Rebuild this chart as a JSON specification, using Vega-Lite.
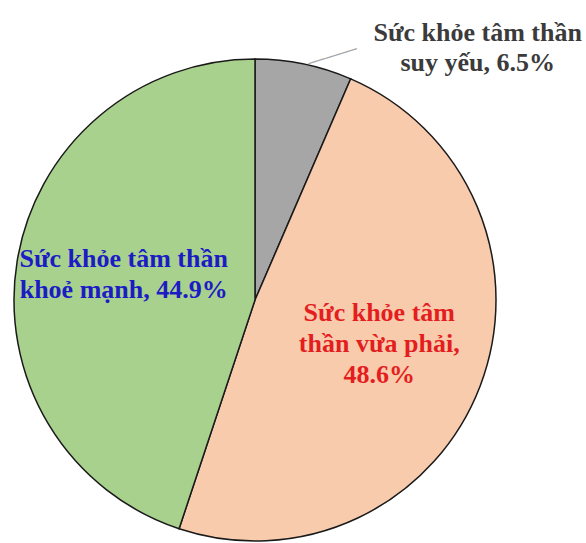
{
  "$schema": "https://vega.github.io/schema/vega-lite/v6.json",
  "width": 510,
  "height": 486,
  "autosize": {"type": "none"},
  "padding": {"left": 0, "top": 57, "right": 76, "bottom": 0},
  "background": "white",
  "config": {"view": {"stroke": null}},
  "data": {
    "values": [
      {"category": "Sức khỏe tâm thần suy yếu", "value": 6.5, "rank": 1, "label": "Sức khỏe tâm thần\nsuy yếu, 6.5%"},
      {"category": "Sức khỏe tâm thần vừa phải", "value": 48.6, "rank": 2, "label": "Sức khỏe tâm\nthần vừa phải,\n48.6%"},
      {"category": "Sức khỏe tâm thần khoẻ mạnh", "value": 44.9, "rank": 3, "label": "Sức khỏe tâm thần\nkhoẻ mạnh, 44.9%"}
    ]
  },
  "encoding": {
    "theta": {"field": "value", "type": "quantitative", "stack": true},
    "order": {"field": "rank", "type": "quantitative"}
  },
  "layer": [
    {
      "mark": {"type": "arc", "outerRadius": 241, "stroke": "#1a1a1a", "strokeWidth": 1.5},
      "encoding": {
        "color": {
          "field": "category",
          "type": "nominal",
          "scale": {
            "domain": ["Sức khỏe tâm thần suy yếu", "Sức khỏe tâm thần vừa phải", "Sức khỏe tâm thần khoẻ mạnh"],
            "range": ["#A6A6A6", "#F8CBAD", "#A9D18E"]
          },
          "legend": null
        }
      }
    },
    {
      "mark": {"type": "text", "radius": 133, "font": "Liberation Serif", "fontWeight": "bold", "fontSize": 26, "lineHeight": 31, "lineBreak": "\n", "align": "center", "baseline": "middle", "dy": -34, "fill": "#E41E1E"},
      "encoding": {
        "text": {"condition": {"test": "datum.rank !== 2", "value": ""}, "field": "label", "type": "nominal"}
      }
    },
    {
      "mark": {"type": "text", "radius": 133, "font": "Liberation Serif", "fontWeight": "bold", "fontSize": 26, "lineHeight": 31, "lineBreak": "\n", "align": "center", "baseline": "middle", "dy": -20, "fill": "#1C1CC4"},
      "encoding": {
        "text": {"condition": {"test": "datum.rank !== 3", "value": ""}, "field": "label", "type": "nominal"}
      }
    },
    {
      "mark": {"type": "text", "radius": 255, "font": "Liberation Serif", "fontWeight": "bold", "fontSize": 26, "lineHeight": 30, "lineBreak": "\n", "align": "center", "baseline": "middle", "dx": 171, "dy": -17, "fill": "#3B3B3B"},
      "encoding": {
        "text": {"condition": {"test": "datum.rank !== 1", "value": ""}, "field": "label", "type": "nominal"}
      }
    },
    {
      "mark": {"type": "text", "radius": 255, "font": "DejaVu Sans Mono", "fontSize": 14, "align": "center", "baseline": "middle", "dx": 23, "dy": 14, "angle": 343, "fill": "#A6A6A6"},
      "encoding": {
        "text": {"condition": {"test": "datum.rank !== 1", "value": ""}, "value": "──────"}
      }
    }
  ]
}
